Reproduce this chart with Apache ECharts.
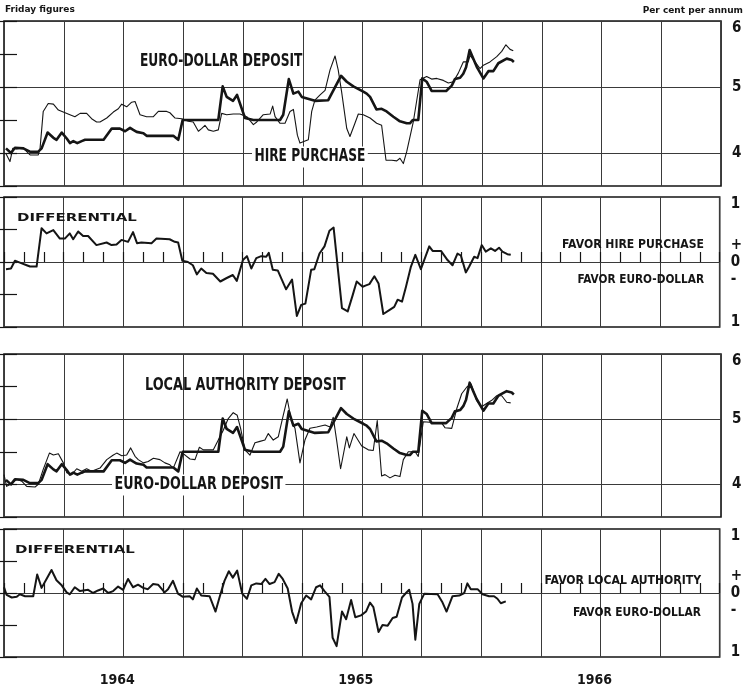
<!DOCTYPE html>
<html>
<head>
<meta charset="utf-8">
<script src="https://cdn.jsdelivr.net/npm/echarts@6/dist/echarts.min.js"></script>
<style>
html,body{margin:0;padding:0;background:#fff;}
#chart{width:745px;height:687px;}
</style>
</head>
<body>
<div id="chart"></div>
<script>
// x values: months after 1 Jan 1964 (weekly Friday figures)
const yearLabels = ['1964', '1965', '1966'];

const euroDollar = [[0.1,4.07],[0.35,4.0],[0.55,4.08],[0.97,4.07],[1.3,4.02],[1.72,4.02],[1.89,4.07],[2.19,4.31],[2.48,4.23],[2.64,4.2],[2.9,4.31],[3.15,4.22],[3.31,4.15],[3.48,4.18],[3.68,4.15],[3.9,4.18],[4.07,4.2],[5.0,4.2],[5.41,4.37],[5.82,4.37],[6.08,4.33],[6.33,4.38],[6.49,4.35],[6.66,4.32],[7.0,4.3],[7.16,4.26],[8.5,4.26],[8.75,4.2],[8.97,4.5],[10.76,4.5],[10.98,5.01],[11.18,4.85],[11.5,4.79],[11.7,4.88],[12.1,4.53],[12.52,4.5],[13.86,4.5],[14.02,4.58],[14.3,5.12],[14.53,4.9],[14.78,4.93],[14.95,4.85],[15.61,4.79],[16.28,4.8],[16.92,5.17],[17.21,5.08],[17.54,5.01],[18.04,4.93],[18.21,4.9],[18.38,4.85],[18.7,4.66],[18.96,4.67],[19.21,4.63],[19.55,4.55],[19.88,4.48],[20.22,4.45],[20.38,4.45],[20.52,4.5],[20.8,4.5],[21.0,5.13],[21.22,5.08],[21.47,4.94],[22.2,4.94],[22.48,5.02],[22.64,5.12],[22.9,5.14],[23.06,5.2],[23.2,5.3],[23.38,5.56],[23.56,5.43],[23.73,5.31],[24.07,5.13],[24.32,5.24],[24.57,5.24],[24.82,5.36],[25.24,5.43],[25.49,5.41],[25.6,5.38]];

const hirePurchase = [[0.1,3.99],[0.3,3.87],[0.44,4.07],[0.64,4.06],[0.97,4.08],[1.14,4.02],[1.31,3.97],[1.72,3.97],[1.81,4.07],[1.97,4.63],[2.22,4.75],[2.48,4.74],[2.73,4.65],[3.31,4.58],[3.56,4.55],[3.82,4.6],[4.15,4.6],[4.4,4.52],[4.65,4.47],[4.82,4.47],[5.16,4.53],[5.49,4.62],[5.74,4.67],[5.91,4.74],[6.16,4.7],[6.41,4.77],[6.58,4.78],[6.83,4.58],[7.16,4.55],[7.5,4.55],[7.75,4.63],[8.17,4.63],[8.33,4.61],[8.59,4.53],[8.92,4.52],[9.09,4.5],[9.25,4.48],[9.5,4.47],[9.76,4.33],[9.92,4.37],[10.09,4.42],[10.26,4.35],[10.51,4.33],[10.76,4.35],[10.93,4.6],[11.18,4.58],[11.51,4.59],[11.85,4.59],[12.19,4.55],[12.52,4.43],[12.69,4.47],[13.02,4.58],[13.36,4.59],[13.49,4.71],[13.61,4.55],[13.86,4.45],[14.11,4.45],[14.36,4.63],[14.53,4.66],[14.73,4.27],[14.86,4.15],[15.28,4.2],[15.45,4.63],[15.61,4.8],[15.87,4.88],[16.12,4.95],[16.37,5.26],[16.62,5.47],[16.78,5.26],[16.95,4.93],[17.21,4.37],[17.37,4.25],[17.62,4.45],[17.79,4.59],[18.04,4.58],[18.38,4.53],[18.71,4.45],[18.96,4.42],[19.18,3.89],[19.47,3.89],[19.72,3.88],[19.88,3.92],[20.05,3.84],[20.22,4.02],[20.55,4.47],[20.89,5.11],[21.22,5.16],[21.47,5.12],[21.73,5.13],[22.06,5.1],[22.31,5.06],[22.56,5.08],[22.81,5.21],[23.06,5.38],[23.31,5.38],[23.4,5.48],[23.65,5.38],[23.9,5.28],[24.07,5.33],[24.4,5.38],[24.74,5.46],[24.99,5.54],[25.2,5.64],[25.41,5.57],[25.57,5.55]];

const diffHire = [[0.1,-0.11],[0.35,-0.1],[0.55,0.02],[0.8,-0.01],[1.14,-0.05],[1.31,-0.07],[1.64,-0.07],[1.89,0.52],[2.14,0.44],[2.48,0.49],[2.81,0.36],[3.06,0.36],[3.31,0.44],[3.48,0.35],[3.73,0.47],[3.98,0.4],[4.23,0.4],[4.65,0.26],[5.16,0.3],[5.41,0.26],[5.66,0.27],[5.91,0.34],[6.24,0.31],[6.49,0.46],[6.69,0.29],[6.91,0.3],[7.42,0.29],[7.67,0.36],[8.33,0.35],[8.59,0.31],[8.76,0.3],[8.97,0.02],[9.25,0.0],[9.5,-0.05],[9.7,-0.19],[9.92,-0.1],[10.18,-0.17],[10.51,-0.18],[10.88,-0.3],[11.18,-0.25],[11.51,-0.2],[11.71,-0.29],[12.02,0.03],[12.22,0.09],[12.44,-0.1],[12.69,0.06],[12.94,0.09],[13.19,0.08],[13.32,0.14],[13.52,-0.12],[13.77,-0.13],[14.19,-0.42],[14.49,-0.27],[14.73,-0.83],[14.95,-0.66],[15.16,-0.64],[15.45,-0.12],[15.61,-0.11],[15.87,0.13],[16.12,0.24],[16.37,0.48],[16.58,0.53],[17.0,-0.71],[17.29,-0.76],[17.54,-0.51],[17.74,-0.3],[18.04,-0.38],[18.21,-0.36],[18.38,-0.34],[18.63,-0.22],[18.84,-0.33],[19.08,-0.8],[19.38,-0.74],[19.63,-0.69],[19.8,-0.58],[20.02,-0.61],[20.22,-0.38],[20.47,-0.07],[20.69,0.11],[20.97,-0.11],[21.39,0.24],[21.56,0.17],[21.98,0.17],[22.31,0.03],[22.56,-0.05],[22.81,0.13],[22.98,0.1],[23.23,-0.16],[23.4,-0.07],[23.65,0.08],[23.82,0.06],[24.03,0.26],[24.23,0.16],[24.49,0.21],[24.7,0.17],[24.9,0.22],[25.07,0.16],[25.32,0.12],[25.49,0.11]];

const localAuthority = [[0.0,4.15],[0.13,3.97],[0.39,4.01],[0.64,4.08],[0.89,4.05],[1.14,3.97],[1.56,3.96],[1.72,4.0],[1.97,4.23],[2.28,4.48],[2.48,4.45],[2.73,4.47],[2.98,4.33],[3.15,4.18],[3.4,4.15],[3.65,4.24],[3.9,4.2],[4.15,4.24],[4.4,4.2],[4.82,4.25],[5.16,4.38],[5.49,4.45],[5.66,4.48],[5.91,4.44],[6.16,4.45],[6.36,4.56],[6.58,4.43],[6.74,4.38],[7.0,4.33],[7.24,4.35],[7.5,4.4],[7.83,4.38],[8.08,4.33],[8.33,4.3],[8.5,4.25],[8.84,4.5],[9.09,4.45],[9.34,4.39],[9.59,4.38],[9.81,4.57],[10.01,4.53],[10.51,4.53],[10.76,4.68],[11.01,4.83],[11.26,5.01],[11.51,5.1],[11.71,5.06],[11.88,4.86],[12.1,4.53],[12.35,4.45],[12.6,4.64],[12.85,4.66],[13.1,4.68],[13.27,4.78],[13.52,4.68],[13.77,4.73],[14.02,5.06],[14.22,5.31],[14.44,4.96],[14.61,4.86],[14.86,4.33],[15.11,4.68],[15.36,4.86],[15.7,4.88],[16.12,4.91],[16.37,4.88],[16.53,5.03],[16.7,4.68],[16.9,4.24],[17.21,4.73],[17.34,4.56],[17.57,4.78],[17.96,4.59],[18.29,4.53],[18.54,4.52],[18.74,4.98],[18.96,4.13],[19.13,4.15],[19.38,4.1],[19.63,4.14],[19.88,4.12],[20.05,4.38],[20.3,4.5],[20.64,4.5],[20.8,4.43],[21.05,4.96],[21.98,4.94],[22.14,4.87],[22.48,4.86],[22.73,5.16],[22.98,5.39],[23.23,5.49],[23.45,5.54],[23.73,5.29],[23.98,5.19],[24.23,5.24],[24.49,5.29],[24.74,5.36],[24.99,5.36],[25.24,5.26],[25.44,5.25]];

const diffLocal = [[0.0,0.09],[0.13,-0.03],[0.39,-0.07],[0.64,-0.06],[0.8,-0.02],[1.06,-0.05],[1.47,-0.05],[1.67,0.29],[1.89,0.08],[2.14,0.22],[2.39,0.36],[2.64,0.2],[2.9,0.12],[3.15,0.01],[3.31,-0.02],[3.56,0.09],[3.82,0.03],[4.23,0.05],[4.48,0.0],[4.73,0.04],[4.99,0.07],[5.24,0.0],[5.49,0.03],[5.74,0.1],[5.99,0.05],[6.24,0.22],[6.49,0.09],[6.74,0.13],[7.0,0.08],[7.24,0.06],[7.5,0.14],[7.75,0.13],[8.08,0.01],[8.25,0.06],[8.5,0.19],[8.75,-0.01],[9.0,-0.06],[9.34,-0.05],[9.5,-0.1],[9.7,0.07],[9.92,-0.04],[10.34,-0.05],[10.64,-0.29],[10.85,-0.06],[11.09,0.19],[11.31,0.34],[11.51,0.24],[11.73,0.35],[11.98,-0.01],[12.22,-0.09],[12.44,0.12],[12.69,0.15],[12.94,0.14],[13.15,0.22],[13.36,0.14],[13.61,0.17],[13.82,0.3],[14.02,0.22],[14.27,0.07],[14.49,-0.29],[14.69,-0.47],[14.95,-0.16],[15.2,-0.04],[15.45,-0.1],[15.7,0.09],[15.9,0.12],[16.12,0.03],[16.37,-0.06],[16.53,-0.7],[16.73,-0.83],[17.0,-0.29],[17.21,-0.41],[17.46,-0.11],[17.67,-0.38],[17.96,-0.35],[18.21,-0.29],[18.41,-0.15],[18.58,-0.22],[18.84,-0.61],[19.04,-0.5],[19.3,-0.51],[19.55,-0.39],[19.75,-0.37],[20.02,-0.07],[20.22,0.0],[20.38,0.05],[20.55,-0.17],[20.69,-0.73],[20.89,-0.17],[21.14,-0.01],[21.81,-0.02],[22.06,-0.15],[22.26,-0.29],[22.56,-0.05],[22.9,-0.04],[23.15,0.0],[23.31,0.15],[23.48,0.06],[23.82,0.06],[24.07,-0.02],[24.4,-0.05],[24.65,-0.05],[24.82,-0.09],[24.99,-0.16],[25.24,-0.13]];

const NARROW = "'Liberation Sans Narrow','DejaVu Sans Condensed','Arial Narrow',sans-serif";
const WIDE = "'DejaVu Sans','Noto Sans',sans-serif";
const INK = '#151515';
const GRIDC = '#3a3a3a';

const grids = [
  {left: 4, right: 24, top: 21, height: 165},
  {left: 4, right: 24, top: 197, height: 130},
  {left: 4, right: 24, top: 354, height: 163},
  {left: 4, right: 24, top: 529, height: 130}
].map(g => Object.assign({show: true, borderColor: INK, borderWidth: 1.6, backgroundColor: 'transparent'}, g));

function isInt(v) { return Math.abs(v - Math.round(v)) < 1e-6; }

function xAxis(i, ticks, labels) {
  return {
    type: 'value', gridIndex: i, min: 0, max: 36, interval: 3,
    axisLine: {show: false},
    axisTick: {show: ticks, inside: true, length: 10, lineStyle: {color: INK, width: 1.2}},
    minorTick: {show: ticks, splitNumber: 3, length: 10, lineStyle: {color: INK, width: 1.2}},
    splitLine: {show: true, lineStyle: {color: GRIDC, width: 1}},
    axisLabel: labels ? {
      show: true, margin: 16, fontFamily: NARROW, fontWeight: 'bold', fontSize: 14, color: INK,
      padding: [0, 12, 0, 0],
      formatter: v => (isInt(v) && Math.round(v) % 12 === 6) ? yearLabels[(Math.round(v) - 6) / 12] : ''
    } : {show: false}
  };
}

const labelRich = {
  dn: {fontFamily: NARROW, fontWeight: 'bold', fontSize: 15, color: INK, padding: [15, 0, 0, 0]},
  up: {fontFamily: NARROW, fontWeight: 'bold', fontSize: 15, color: INK, padding: [0, 0, 9, 0]},
  n: {fontFamily: NARROW, fontWeight: 'bold', fontSize: 15, color: INK, lineHeight: 17}
};

function rateFmt(v) {
  if (!isInt(v)) return '';
  if (Math.round(v) === 6) return '{dn|6}';
  return '{n|' + Math.round(v) + '}';
}
function diffFmt(v) {
  if (!isInt(v)) return '';
  const r = Math.round(v);
  if (r === 1) return '{dn|1}';
  if (r === -1) return '{up|1}';
  return '{n|+}\n{n|0}\n{n|-}';
}

function yPair(i, min, max, fmt, colors) {
  const tick = {show: true, inside: true, length: 13, lineStyle: {color: INK, width: 1.2}};
  return [
    {type: 'value', gridIndex: i, position: 'right', min, max, interval: 0.5,
     axisLine: {show: false}, axisTick: tick,
     axisLabel: {show: true, showMinLabel: true, showMaxLabel: true, margin: 11, formatter: fmt, rich: labelRich,
                 fontFamily: NARROW, fontWeight: 'bold', fontSize: 15, color: INK},
     splitLine: {show: true, lineStyle: {color: colors, width: 1}}},
    {type: 'value', gridIndex: i, position: 'left', min, max, interval: 0.5,
     axisLine: {show: false}, axisTick: tick, axisLabel: {show: false}, splitLine: {show: false}}
  ];
}

const T = 'rgba(0,0,0,0)';
const yAxes = [].concat(
  yPair(0, 3.5, 6, rateFmt, [T, GRIDC]),
  yPair(1, -1, 1, diffFmt, [T, T, GRIDC, T, T]),
  yPair(2, 3.5, 6, rateFmt, [T, GRIDC]),
  yPair(3, -1, 1, diffFmt, [T, T, GRIDC, T, T])
);

function line(data, xi, yi, w) {
  return {type: 'line', data, xAxisIndex: xi, yAxisIndex: yi, showSymbol: false, symbol: 'none',
          lineStyle: {color: INK, width: w, join: 'round'}, z: 5, animation: false};
}

// text annotation: position (x, y), horizontal squeeze/stretch sx
function txt(text, x, y, font, align, sx, bg) {
  const style = {text, x: 0, y: 0, font, fill: INK, align: align || 'left', verticalAlign: 'middle'};
  if (bg) { style.backgroundColor = '#fff'; style.padding = [2, 3, 2, 3]; }
  return {type: 'text', z: 50, x, y, scaleX: sx || 1, scaleY: 1, style};
}

const chart = echarts.init(document.getElementById('chart'), null, {renderer: 'canvas'});
chart.setOption({
  animation: false,
  backgroundColor: '#fff',
  grid: grids,
  xAxis: [xAxis(0, false, false), xAxis(1, true, false), xAxis(2, false, false), xAxis(3, true, true)],
  yAxis: yAxes,
  series: [
    line(hirePurchase, 0, 0, 1.1),
    line(euroDollar, 0, 0, 2.6),
    line(diffHire, 1, 2, 2),
    line(localAuthority, 2, 4, 1.1),
    line(euroDollar, 2, 4, 2.6),
    line(diffLocal, 3, 6, 2)
  ],
  graphic: [
    txt('Friday figures', 5, 10, 'bold 9px ' + WIDE),
    txt('Per cent per annum', 743, 11, 'bold 9px ' + WIDE, 'right'),
    txt('EURO-DOLLAR DEPOSIT', 140, 62, 'bold 17px ' + NARROW, 'left', 0.8),
    txt('HIRE PURCHASE', 252, 157, 'bold 17px ' + NARROW, 'left', 0.8, true),
    txt('DIFFERENTIAL', 17, 218, 'bold 11px ' + WIDE, 'left', 1.36),
    txt('FAVOR HIRE PURCHASE', 704, 245, 'bold 13px ' + NARROW, 'right', 0.93),
    txt('FAVOR EURO-DOLLAR', 704, 280, 'bold 13px ' + NARROW, 'right', 0.9),
    txt('LOCAL AUTHORITY DEPOSIT', 145, 386, 'bold 17px ' + NARROW, 'left', 0.84),
    txt('EURO-DOLLAR DEPOSIT', 112, 485, 'bold 17px ' + NARROW, 'left', 0.83, true),
    txt('DIFFERENTIAL', 15, 550, 'bold 11px ' + WIDE, 'left', 1.36),
    txt('FAVOR LOCAL AUTHORITY', 701, 581, 'bold 13px ' + NARROW, 'right', 0.93),
    txt('FAVOR EURO-DOLLAR', 701, 613, 'bold 13px ' + NARROW, 'right', 0.91)
  ]
});
</script>
</body>
</html>
